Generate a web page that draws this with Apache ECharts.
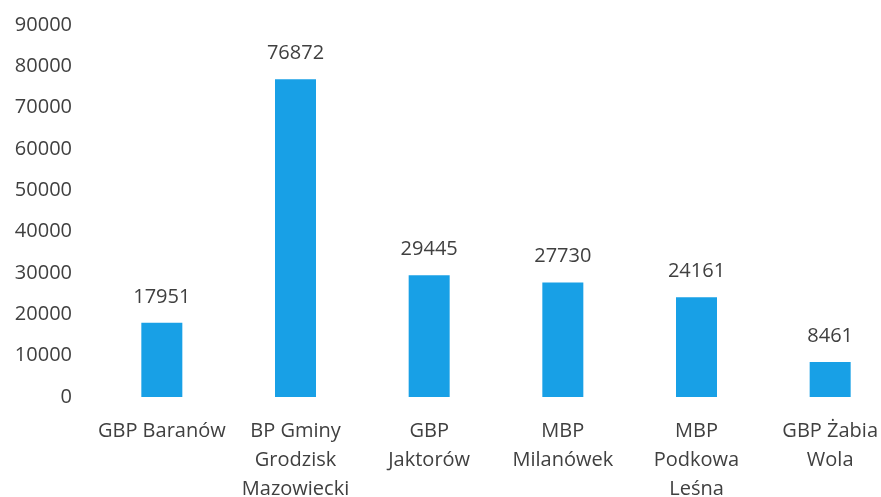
<!DOCTYPE html>
<html><head><meta charset="utf-8">
<script src="https://cdn.jsdelivr.net/npm/echarts@6/dist/echarts.min.js"></script>
<style>html,body{margin:0;padding:0;background:#fff}#c{width:881px;height:497px}</style>
</head><body><div id="c"></div>
<script>
const categories = ['GBP Baranów', 'BP Gminy\nGrodzisk\nMazowiecki', 'GBP\nJaktorów', 'MBP\nMilanówek', 'MBP\nPodkowa\nLeśna', 'GBP Żabia\nWola'];
const values = [17951, 76872, 29445, 27730, 24161, 8461];
const yMin = 0, yMax = 90000, yStep = 10000;

const chart = echarts.init(document.getElementById('c'), null, {renderer: 'canvas'});
const font = '"Open Sans", "Liberation Sans", sans-serif';
chart.setOption({
  animation: false,
  backgroundColor: '#fff',
  grid: {left: 95, top: 25, width: 802, height: 372, containLabel: false, outerBoundsMode: 'none'},
  xAxis: {
    type: 'category', data: categories,
    axisLine: {show: false}, axisTick: {show: false},
    axisLabel: {color: '#404040', fontSize: 20, fontFamily: font, lineHeight: 29, margin: 20, interval: 0}
  },
  yAxis: {
    type: 'value', min: yMin, max: yMax, interval: yStep,
    splitLine: {show: false}, axisLine: {show: false}, axisTick: {show: false},
    axisLabel: {color: '#404040', fontSize: 20, fontFamily: font, margin: 23, formatter: v => String(v)}
  },
  series: [{
    type: 'bar', data: values, barWidth: 41,
    itemStyle: {color: '#18a0e6'},
    label: {show: true, position: 'top', distance: 16, color: '#404040', fontSize: 20, fontFamily: font}
  }]
});
</script></body></html>
